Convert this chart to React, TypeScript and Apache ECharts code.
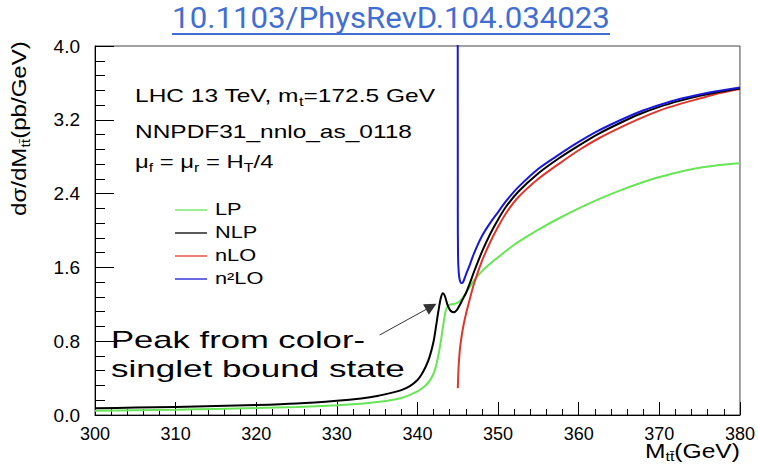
import React, { useEffect, useRef } from "react";
import * as echarts from "echarts";

// ---------- data ----------
const xMin = 300;
const xMax = 380;
const xStep = 10;
const yMin = 0;
const yMax = 4;
const yStep = 0.8;

const seriesNames = ["LP", "NLP", "nLO", "n²LO"];
const seriesColors = ["#66e655", "#000000", "#e0352c", "#1818d6"];

const lpPoints: [number, number][] = [
  [300, 0.047], [305, 0.052], [310, 0.058], [315, 0.066], [320, 0.075], [325, 0.087],
  [330, 0.105], [333, 0.122], [335, 0.14], [337, 0.165], [338, 0.185], [339, 0.215],
  [340, 0.255], [340.5, 0.285], [341, 0.32], [341.5, 0.37], [342, 0.45], [342.3, 0.53],
  [342.6, 0.65], [342.9, 0.8], [343.2, 0.98], [343.5, 1.13], [343.8, 1.185], [344.2, 1.2],
  [344.8, 1.21], [345.2, 1.23], [345.6, 1.27], [346, 1.32], [346.5, 1.39], [347, 1.46],
  [348, 1.56], [349, 1.64], [350, 1.71], [351, 1.78], [352, 1.845], [353.5, 1.93],
  [355, 2.01], [357.5, 2.13], [360, 2.24], [362.5, 2.34], [365, 2.43], [367.5, 2.51],
  [370, 2.58], [372.5, 2.635], [375, 2.68], [377.5, 2.71], [380, 2.73],
];

const nlpPoints: [number, number][] = [
  [300, 0.072], [305, 0.08], [310, 0.088], [315, 0.097], [320, 0.108], [325, 0.125],
  [330, 0.155], [333, 0.18], [335, 0.205], [337, 0.245], [338, 0.27], [339, 0.31],
  [340, 0.38], [340.5, 0.44], [341, 0.52], [341.5, 0.63], [342, 0.8], [342.3, 0.96],
  [342.6, 1.13], [342.9, 1.27], [343.15, 1.32], [343.4, 1.29], [343.7, 1.2], [344.1, 1.13],
  [344.5, 1.115], [344.9, 1.14], [345.3, 1.2], [345.7, 1.27], [346, 1.32], [346.5, 1.43],
  [347, 1.55], [348, 1.77], [349, 1.96], [350, 2.12], [351, 2.26], [352.5, 2.42],
  [355, 2.62], [357.5, 2.78], [360, 2.92], [362.5, 3.05], [365, 3.16], [367.5, 3.26],
  [370, 3.34], [372.5, 3.405], [375, 3.46], [377.5, 3.505], [380, 3.54],
];

const nloPoints: [number, number][] = [
  [345.0, 0.29], [345.05, 0.42], [345.12, 0.55], [345.25, 0.7], [345.45, 0.84],
  [345.7, 0.97], [346, 1.09], [346.5, 1.26], [347, 1.42], [348, 1.67], [349, 1.87],
  [350, 2.04], [351, 2.19], [352.5, 2.36], [355, 2.56], [357.5, 2.72], [360, 2.87],
  [362.5, 3.0], [365, 3.11], [367.5, 3.21], [370, 3.3], [372.5, 3.37], [375, 3.43],
  [377.5, 3.49], [380, 3.535],
];

const n2loPoints: [number, number][] = [
  [344.98, 9], [345.0, 2.2], [345.03, 1.72], [345.12, 1.54], [345.25, 1.46],
  [345.45, 1.43], [345.65, 1.44], [346, 1.52], [346.5, 1.63], [347, 1.75],
  [348, 1.94], [349, 2.08], [350, 2.2], [351, 2.32], [352.5, 2.47], [355, 2.67],
  [357.5, 2.82], [360, 2.96], [362.5, 3.085], [365, 3.19], [367.5, 3.285], [370, 3.36],
  [372.5, 3.425], [375, 3.475], [377.5, 3.515], [380, 3.55],
];

// annotation arrow (data coordinates): tail -> head
const arrowTail: [number, number] = [335.3, 0.867];
const arrowHead: [number, number] = [341.7, 1.175];

// texts
const titleText = "10.1103/PhysRevD.104.034023";
const infoLine1: [string, number][] = [["LHC 13 TeV, m", 0], ["t", 1], ["=172.5 GeV", 0]];
const infoLine2: [string, number][] = [["NNPDF31_nnlo_as_0118", 0]];
const infoLine3: [string, number][] = [["μ", 0], ["f", 1], [" = μ", 0], ["r", 1], [" = H", 0], ["T", 1], ["/4", 0]];
const annotationLines = ["Peak from color-", "singlet bound state"];
const yAxisName: [string, number][] = [["dσ/dM", 0], ["tt\u0304", 1], ["(pb/GeV)", 0]];
const xAxisName: [string, number][] = [["M", 0], ["tt\u0304", 1], ["(GeV)", 0]];

const FONT = "'Liberation Sans', Arial, Helvetica, sans-serif";
const TITLE_FONT = "Roboto, 'Open Sans', sans-serif";

let measureCtx: CanvasRenderingContext2D | null = null;
function measure(str: string, size: number, family: string): number {
  if (!measureCtx) {
    measureCtx = document.createElement("canvas").getContext("2d");
  }
  if (!measureCtx) return str.length * size * 0.55;
  measureCtx.font = `${size}px ${family}`;
  return measureCtx.measureText(str).width;
}

const SUB_RATIO = 0.65;

function richParts(parts: [string, number][], size: number, family: string) {
  let w = 0;
  const text = parts
    .map(([t, s]) => {
      w += measure(t, s ? size * SUB_RATIO : size, family);
      return `{${s ? "s" : "a"}|${t}}`;
    })
    .join("");
  return { text, width: w };
}

function richStyles(size: number, family: string, color: string) {
  return {
    a: { fontSize: size, fontFamily: family, fill: color },
    s: {
      fontSize: Math.round(size * SUB_RATIO),
      fontFamily: family,
      fill: color,
      padding: [Math.round(size * 0.6), 0, 0, 0],
    },
  };
}

function fittedRich(
  parts: [string, number][],
  size: number,
  x: number,
  y: number,
  targetWidth: number,
  extra: any = {}
) {
  const { text, width } = richParts(parts, size, FONT);
  return {
    type: "text",
    x,
    y,
    scaleX: targetWidth / width,
    silent: true,
    ...extra,
    style: {
      text,
      rich: richStyles(size, FONT, "#000"),
      fontSize: size,
      fontFamily: FONT,
      fill: "#000",
      align: "left",
      verticalAlign: "middle",
    },
  };
}

function fittedText(
  str: string,
  size: number,
  family: string,
  x: number,
  y: number,
  targetWidth: number,
  color = "#000",
  align = "left"
) {
  const w = measure(str, size, family);
  return {
    type: "text",
    x,
    y,
    scaleX: targetWidth / w,
    silent: true,
    style: {
      text: str,
      fontSize: size,
      fontFamily: family,
      fill: color,
      align,
      verticalAlign: "middle",
    },
  };
}

export default function App() {
  const ref = useRef<HTMLDivElement>(null);

  useEffect(() => {
    if (!ref.current) return;
    const chart = echarts.init(ref.current, null, { renderer: "svg" });

    const pointSets = [lpPoints, nlpPoints, nloPoints, n2loPoints];
    const drawOrder = [0, 2, 1, 3];

    const series: any[] = drawOrder.map((i, k) => ({
      name: seriesNames[i],
      type: "line",
      data: pointSets[i],
      showSymbol: false,
      symbol: "none",
      smooth: 0.25,
      clip: true,
      z: 2 + k,
      lineStyle: { color: seriesColors[i], width: 2 },
      itemStyle: { color: seriesColors[i] },
      emphasis: { disabled: true },
      markLine:
        i === 3
          ? {
              silent: true,
              symbol: ["none", "triangle"],
              symbolSize: 12,
              label: { show: false },
              lineStyle: { color: "#333", width: 1, type: "solid" },
              itemStyle: { color: "#111" },
              emphasis: { disabled: true },
              data: [[{ coord: arrowTail }, { coord: arrowHead }]],
            }
          : undefined,
    }));

    const legendRowY = [210, 233, 256, 279];
    const legendGraphics: any[] = [];
    seriesNames.forEach((name, i) => {
      legendGraphics.push({
        type: "line",
        silent: true,
        shape: { x1: 175, y1: legendRowY[i], x2: 207, y2: legendRowY[i] },
        style: { stroke: seriesColors[i], lineWidth: 1.3 },
      });
      legendGraphics.push({
        type: "text",
        x: 215,
        y: legendRowY[i],
        scaleX: 1.36,
        silent: true,
        style: {
          text: name,
          fontSize: 16,
          fontFamily: FONT,
          fill: "#000",
          align: "left",
          verticalAlign: "middle",
        },
      });
    });

    const graphic: any[] = [
      fittedText(titleText, 29, TITLE_FONT, 391, 18, 438, "#416ed2", "center"),
      {
        type: "line",
        silent: true,
        shape: { x1: 172, y1: 34, x2: 610, y2: 34 },
        style: { stroke: "#416ed2", lineWidth: 2 },
      },
      fittedRich(infoLine1, 18, 135, 96, 300),
      fittedRich(infoLine2, 18, 135, 132, 277),
      fittedRich(infoLine3, 18, 135, 162, 138),
      ...legendGraphics,
      fittedText(annotationLines[0], 24, FONT, 111, 340, 254),
      fittedText(annotationLines[1], 24, FONT, 111, 369, 294),
      fittedRich(yAxisName, 20, 19, 216, 175, { rotation: Math.PI / 2 }),
      fittedRich(xAxisName, 20, 645, 451, 95),
    ];

    chart.setOption({
      animation: false,
      backgroundColor: "#ffffff",
      grid: {
        left: 95,
        right: 17,
        top: 46,
        bottom: 49,
        show: true,
        borderColor: "#444",
        borderWidth: 1,
        backgroundColor: "transparent",
      },
      xAxis: {
        type: "value",
        min: xMin,
        max: xMax,
        interval: xStep,
        axisLine: { show: true, lineStyle: { color: "#000", width: 1 } },
        axisTick: { show: true, inside: true, length: 13, lineStyle: { color: "#000" } },
        minorTick: { show: true, splitNumber: 5, length: 6, lineStyle: { color: "#000" } },
        splitLine: { show: false },
        minorSplitLine: { show: false },
        axisLabel: {
          color: "#000",
          fontSize: 18,
          fontFamily: FONT,
          margin: 10,
        },
      },
      yAxis: {
        type: "value",
        min: yMin,
        max: yMax,
        interval: yStep,
        axisLine: { show: true, lineStyle: { color: "#000", width: 1 } },
        axisTick: { show: true, inside: true, length: 19, lineStyle: { color: "#000" } },
        minorTick: { show: true, splitNumber: 5, length: 10, lineStyle: { color: "#000" } },
        splitLine: { show: false },
        minorSplitLine: { show: false },
        axisLabel: {
          color: "#000",
          fontSize: 19,
          fontFamily: FONT,
          margin: 15,
          formatter: (v: number) => v.toFixed(1),
        },
      },
      series,
      graphic,
    });

    return () => {
      chart.dispose();
    };
  }, []);

  return (
    <div
      ref={ref}
      style={{ position: "absolute", left: 0, top: 0, width: 758, height: 464 }}
    />
  );
}
